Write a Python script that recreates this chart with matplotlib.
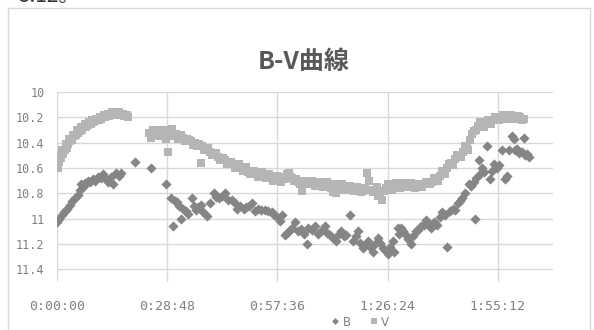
import matplotlib
matplotlib.use("Agg")
import matplotlib.pyplot as plt
from matplotlib.lines import Line2D

# ---- observation data: elapsed time (minutes) and magnitude ----
t_b = [0.0, 0.6, 1.2, 1.8, 2.1, 2.7, 3.4, 4.0, 4.7, 5.5, 6.0, 6.4, 7.0, 7.3, 8.0,
       8.6, 9.4, 10.0, 10.7, 11.4, 12.0, 12.6, 13.3, 14.2, 14.6, 15.5, 16.2, 16.8,
       20.5, 24.6,
       28.5, 29.7, 30.2, 30.8, 31.4, 32.0, 32.4, 32.8, 33.7, 34.3, 35.4, 35.8, 36.2,
       36.9, 37.5, 38.2, 39.3, 40.0, 41.0, 41.6, 42.3, 43.0, 44.0, 44.7, 45.8, 46.5,
       47.1, 47.8, 48.8, 49.5, 50.2, 50.9, 51.8, 52.6, 53.4, 54.4, 55.2, 56.1, 56.8,
       57.4, 58.3, 58.7, 59.6, 60.2, 60.9, 61.5, 62.2, 63.1, 63.8, 64.5, 65.2, 65.7,
       66.5, 67.4, 68.2, 69.1, 70.0, 70.6, 71.3, 72.1, 73.0, 73.6, 74.3, 75.0, 75.6,
       76.5, 77.3, 78.0, 78.6, 79.3, 79.9, 80.6, 81.2, 81.9, 82.5, 83.2, 83.8, 84.4,
       85.1, 85.8, 86.4, 87.1, 87.7, 88.1, 89.0, 89.4, 89.9, 90.5, 91.2, 91.8, 92.5,
       93.1, 93.8, 94.4, 95.1, 95.8, 96.4, 97.0, 97.7, 98.5, 99.4, 100.0, 100.7,
       101.4, 102.0, 102.8, 103.4, 104.1, 104.8, 105.4, 105.9, 106.7, 107.6, 108.2,
       108.9, 109.1, 109.6, 110.2, 110.6, 111.1, 111.5, 112.4, 113.2, 113.7, 114.1,
       115.0, 115.5, 116.3, 117.1, 117.6, 118.0, 118.9, 119.3, 119.7, 120.2, 120.6,
       121.4, 121.9, 122.3, 122.8, 123.2]
b_mag = [11.03, 11.00, 10.97, 10.95, 10.94, 10.92, 10.89, 10.86, 10.84, 10.81, 10.77,
         10.73, 10.74, 10.72, 10.70, 10.71, 10.69, 10.70, 10.67, 10.68, 10.65, 10.68,
         10.71, 10.67, 10.73, 10.64, 10.66, 10.64,
         10.55, 10.60,
         10.73, 10.84, 11.06, 10.86, 10.87, 10.90, 11.00, 10.92, 10.94, 10.96, 10.84,
         10.90, 10.93, 10.91, 10.89, 10.95, 10.98, 10.88, 10.80, 10.83, 10.84, 10.82,
         10.80, 10.85, 10.85, 10.88, 10.92, 10.90, 10.92, 10.91, 10.90, 10.88, 10.94,
         10.92, 10.93, 10.93, 10.94, 10.95, 10.97, 10.99, 11.02, 10.97, 11.13, 11.11,
         11.09, 11.07, 11.03, 11.10, 11.08, 11.12, 11.20, 11.07, 11.09, 11.06, 11.12,
         11.10, 11.06, 11.11, 11.13, 11.15, 11.18, 11.12, 11.10, 11.14, 11.13, 10.97,
         11.18, 11.14, 11.10, 11.19, 11.23, 11.21, 11.18, 11.22, 11.26, 11.20, 11.15,
         11.19, 11.23, 11.25, 11.28, 11.22, 11.18, 11.26, 11.07, 11.12, 11.07, 11.10,
         11.13, 11.16, 11.20, 11.14, 11.10, 11.09, 11.06, 11.05, 11.01, 11.04, 11.07,
         11.03, 11.05, 10.99, 10.95, 10.97, 11.22, 10.94, 10.92, 10.93, 10.88, 10.86,
         10.84, 10.80, 10.73, 10.74, 10.71, 11.00, 10.68, 10.54, 10.65, 10.60, 10.63,
         10.43, 10.69, 10.62, 10.57, 10.60, 10.58, 10.46, 10.69, 10.66, 10.46, 10.35,
         10.37, 10.46, 10.45, 10.48, 10.47, 10.36, 10.50, 10.49, 10.51]

# V: readings on the whole minute / half minute
t_v_a = [0.0, 0.5, 1.0, 1.5, 2.0, 2.5, 3.0, 3.5, 4.0, 4.5, 5.0, 5.5, 6.0, 6.5, 7.0, 7.5,
         8.0, 8.5, 9.0, 9.5, 10.0, 10.5, 11.0, 11.5, 12.0, 12.5, 13.0, 13.5, 14.0, 14.5,
         15.0, 15.5, 16.0, 16.5, 17.0, 17.5, 18.0, 18.5,
         24.0, 25.0, 26.0, 27.0, 28.0, 29.0, 30.0, 31.0, 32.0, 33.0, 34.0, 35.0, 36.0,
         37.0, 37.5, 38.0, 39.0, 40.0, 41.0, 42.0, 43.0, 44.0, 45.0, 46.0, 47.0, 48.0,
         49.0, 50.0, 51.0, 52.0, 53.0, 54.0, 55.0, 56.0, 57.0, 58.0, 59.0, 60.0, 61.0,
         62.0, 63.0, 64.0, 65.0, 66.0, 67.0, 68.0, 69.0, 70.0, 71.0, 72.0, 73.0, 74.0,
         75.0, 76.0, 77.0, 78.0, 79.0, 80.0, 81.0, 82.0, 83.0, 84.0, 85.0, 86.0, 87.0,
         88.0, 89.0, 90.0, 91.0, 92.0, 93.0, 94.0, 95.0, 96.0, 97.0, 98.0, 99.0, 100.0,
         101.0, 102.0, 103.0, 104.0, 105.0, 106.0, 107.0, 108.0, 109.0, 110.0, 111.0,
         112.0, 113.0, 114.0, 115.0, 116.0, 117.0, 118.0, 119.0, 120.0, 121.0, 122.0]
v_mag_a = [10.58, 10.55, 10.52, 10.49, 10.46, 10.44, 10.41, 10.39, 10.38, 10.35, 10.34,
           10.32, 10.31, 10.30, 10.28, 10.28, 10.26, 10.25, 10.25, 10.24, 10.23, 10.22,
           10.22, 10.21, 10.20, 10.20, 10.19, 10.19, 10.18, 10.18, 10.18, 10.18, 10.17,
           10.18, 10.18, 10.19, 10.19, 10.20,
           10.32, 10.30, 10.33, 10.35, 10.30, 10.47, 10.29, 10.33, 10.35, 10.36, 10.37,
           10.39, 10.40, 10.41, 10.56, 10.43, 10.45, 10.47, 10.49, 10.51, 10.53, 10.54,
           10.56, 10.57, 10.58, 10.60, 10.61, 10.63, 10.63, 10.64, 10.65, 10.66, 10.66,
           10.67, 10.68, 10.69, 10.67, 10.65, 10.66, 10.70, 10.71, 10.78, 10.70, 10.71,
           10.72, 10.72, 10.73, 10.72, 10.74, 10.79, 10.80, 10.74, 10.74, 10.75, 10.76,
           10.76, 10.77, 10.78, 10.64, 10.77, 10.77, 10.82, 10.85, 10.76, 10.75, 10.74,
           10.74, 10.74, 10.73, 10.74, 10.74, 10.75, 10.74, 10.73, 10.72, 10.71, 10.69,
           10.66, 10.63, 10.60, 10.56, 10.53, 10.50, 10.47, 10.44, 10.38, 10.31, 10.27,
           10.26, 10.25, 10.23, 10.22, 10.21, 10.20, 10.19, 10.19, 10.20, 10.20, 10.20,
           10.21]
# V: readings in between
t_v_b = [0.25, 0.75, 1.25, 2.25, 3.25, 4.25, 5.25, 6.25, 7.25, 8.25, 9.25, 10.25,
         11.25, 12.25, 13.25, 14.25, 15.25, 16.25, 17.25, 18.25,
         24.5, 25.5, 26.5, 27.5, 28.5, 29.5, 30.5, 31.5, 32.5, 33.5, 34.5, 35.5, 36.5,
         38.5, 39.5, 40.5, 41.5, 42.5, 43.5, 44.5, 45.5, 46.5, 47.5, 48.5, 49.5, 50.5,
         51.5, 52.5, 53.5, 54.5, 55.5, 56.5, 57.5, 58.5, 59.5, 60.5, 61.5, 62.5, 63.5,
         64.5, 65.5, 66.5, 67.5, 68.5, 69.5, 70.5, 71.5, 72.5, 73.5, 74.5, 75.5, 76.5,
         77.5, 78.5, 79.5, 80.5, 81.5, 82.5, 83.5, 84.5, 85.5, 86.5, 87.5, 88.5, 89.5,
         90.5, 91.5, 92.5, 93.5, 94.5, 95.5, 96.5, 97.5, 98.5, 99.5, 100.5, 101.5, 102.5,
         103.5, 104.5, 105.5, 106.5, 107.5, 108.5, 109.5, 110.5, 111.5, 112.5, 113.5,
         114.5, 115.5, 116.5, 117.5, 118.5, 119.5, 120.5, 121.5]
v_mag_b = [10.60, 10.50, 10.46, 10.41, 10.37, 10.34, 10.30, 10.28, 10.25, 10.24, 10.22,
           10.21, 10.20, 10.18, 10.17, 10.16, 10.16, 10.16, 10.17, 10.18,
           10.36, 10.34, 10.30, 10.33, 10.37, 10.32, 10.35, 10.37, 10.34, 10.39, 10.38,
           10.42, 10.43, 10.46, 10.44, 10.50, 10.48, 10.54, 10.52, 10.57, 10.55, 10.60,
           10.57, 10.62, 10.59, 10.65, 10.62, 10.67, 10.63, 10.68, 10.65, 10.70, 10.66,
           10.71, 10.69, 10.64, 10.68, 10.69, 10.73, 10.70, 10.73, 10.70, 10.74, 10.71,
           10.75, 10.71, 10.76, 10.73, 10.77, 10.73, 10.77, 10.74, 10.78, 10.75, 10.79,
           10.76, 10.70, 10.79, 10.75, 10.80, 10.78, 10.73, 10.77, 10.72, 10.76, 10.72,
           10.75, 10.72, 10.76, 10.73, 10.75, 10.71, 10.73, 10.68, 10.70, 10.62, 10.65,
           10.57, 10.58, 10.50, 10.51, 10.43, 10.46, 10.33, 10.30, 10.24, 10.28, 10.22,
           10.25, 10.20, 10.22, 10.18, 10.21, 10.18, 10.21, 10.19, 10.22]

x_tick_labels = ["0:00:00", "0:28:48", "0:57:36", "1:26:24", "1:55:12"]
y_tick_values = [10, 10.2, 10.4, 10.6, 10.8, 11, 11.2, 11.4]
series_names = ["B", "V"]
title_text = "B-V曲線"


def hms_to_minutes(s):
    h, m, sec = (int(p) for p in s.split(":"))
    return h * 60 + m + sec / 60.0


W, H = 594, 330
fig = plt.figure(figsize=(W / 100, H / 100), dpi=100)
fig.patch.set_facecolor("white")

# chart frame
frame_col = "#d9d9d9"
fig.add_artist(Line2D([8 / W, 8 / W], [0, 1 - 8 / H], color=frame_col, lw=1.0))
fig.add_artist(Line2D([8 / W, 590 / W], [1 - 8 / H, 1 - 8 / H], color=frame_col, lw=1.0))
fig.add_artist(Line2D([590 / W, 590 / W], [0, 1 - 8 / H], color=frame_col, lw=1.0))

# end of the text line above the chart
fig.text(18 / W, 1 - 2 / H, "5.12。", fontsize=15, color="#333333",
         family=["Noto Sans CJK JP", "DejaVu Sans"], va="baseline", ha="left")

left, right, top, bottom = 57, 553, 92, 282
ax = fig.add_axes([left / W, 1 - bottom / H, (right - left) / W, (bottom - top) / H])

b_col = "#858585"
v_col = "#b5b5b5"
t_v = t_v_a + t_v_b
v_mag = v_mag_a + v_mag_b
ax.scatter(t_b, b_mag, marker="D", s=27, color=b_col, linewidths=0, zorder=3)
ax.scatter(t_v, v_mag, marker="s", s=40, color=v_col, linewidths=0, zorder=4)

ax.set_xlim(0, 129.6)
ax.set_ylim(11.5, 10)

xt = [hms_to_minutes(s) for s in x_tick_labels]
ax.set_xticks(xt)
ax.set_xticklabels(x_tick_labels)
ax.set_yticks(y_tick_values)
ax.set_yticklabels([f"{v:g}" for v in y_tick_values])

grid_col = "#d9d9d9"
ax.grid(True, color=grid_col, lw=1.0, zorder=0)
for sp in ax.spines.values():
    sp.set_visible(False)
ax.tick_params(axis="both", length=0, colors="#808080")
ax.tick_params(axis="y", pad=9)
ax.tick_params(axis="x", pad=13)
for lab in ax.get_xticklabels():
    lab.set_family("DejaVu Sans Mono")
    lab.set_fontsize(9.5)
for lab in ax.get_yticklabels():
    lab.set_family("DejaVu Sans Mono")
    lab.set_fontsize(8.5)

fig.text(304 / W, 1 - 62 / H, title_text, fontsize=18, fontweight="bold",
         color="#595959", family=["Noto Sans CJK JP", "DejaVu Sans"],
         ha="center", va="center")

handles = [
    Line2D([], [], marker="D", ls="none", color=b_col, markersize=3.5, markeredgewidth=0),
    Line2D([], [], marker="s", ls="none", color=v_col, markersize=5, markeredgewidth=0),
]
leg = fig.legend(handles, series_names, loc="center",
                 bbox_to_anchor=(360 / W, 1 - 322 / H), ncol=2, frameon=False,
                 fontsize=8.5, handletextpad=0.2, columnspacing=1.6, handlelength=0.8,
                 borderpad=0)
for txt in leg.get_texts():
    txt.set_color("#808080")

fig.savefig("out.png", dpi=100, facecolor="white")
